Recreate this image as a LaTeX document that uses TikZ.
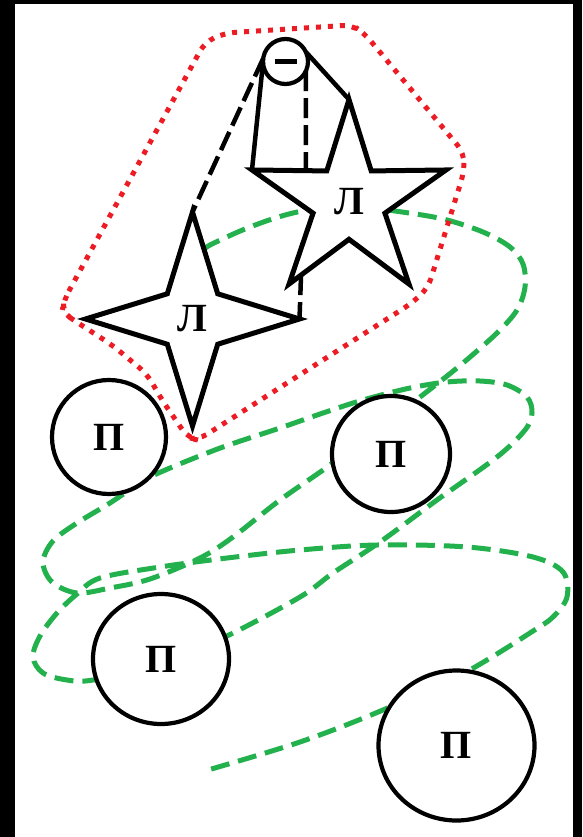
\documentclass[tikz,border=0pt]{standalone}
\usepackage{fontspec}
\newfontfamily\labfont{Liberation Serif}
\usetikzlibrary{shapes.geometric,calc}
\definecolor{gar}{RGB}{34,177,76}
\definecolor{outl}{RGB}{237,28,36}
\begin{document}
\begin{tikzpicture}[x=1pt,y=-1pt,
  lab/.style={font=\labfont\bfseries\fontsize{40}{40}\selectfont},
  ball/.style={ellipse,draw,line width=4.2pt,fill=white,inner sep=0pt,outer sep=0pt,lab},
  starl/.style={star,draw,line width=5pt,fill=white,inner sep=0pt,outer sep=0pt,lab},
  garland/.style={draw=gar,line width=5pt,dash pattern=on 19pt off 9pt},
  blk/.style={draw=black,line width=4.5pt},
  blkdash/.style={draw=black,line width=4.5pt,dash pattern=on 20pt off 7pt},
  outline/.style={draw=outl,line width=5pt,dash pattern=on 5pt off 7pt,rounded corners=10pt}
]
\useasboundingbox (0,0) rectangle (582,837);
\fill[black] (0,0) rectangle (582,837);
\fill[white] (15,4) rectangle (573,837);

% garland
\draw[garland,line cap=butt] plot[smooth,tension=0.55] coordinates {
 (203,250) (212,244) (250,227) (293,213) (345,205) (395,211) (443,219) (483,232)
 (510,247) (523,264) (525,287) (517,310) (497,333) (463,363) (433,387) (400,412)
 (360,440) (330,465) (280,500) (233,537) (200,558) (150,579) (110,588) (77,593)
 (52,582) (43,562) (53,541) (77,523) (110,503) (143,481) (170,468) (223,447)
 (280,428) (323,413) (363,400) (410,388) (447,382) (480,381) (507,385) (527,397)
 (532,413) (525,430) (497,457) (437,500) (380,542) (333,573) (300,597) (227,636)
 (160,665) (93,680) (67,680) (43,673) (33,657) (40,636) (57,613) (77,594)
 (100,578) (160,567) (227,558) (300,550) (377,545) (467,547) (533,557) (563,572)
 (567,597) (553,617) (533,631) (487,660) (450,680) (371,715) (297,743) (208,770)};

% stars and balls
\node[starl,star points=5,star point ratio=2.7,minimum size=204pt] (rs) at (349,201.5) {Л};
\node[starl,star points=4,star point ratio=3.0,minimum size=214pt] (ls) at (192.5,319) {Л};
\node[circle,draw,line width=4.2pt,fill=white,minimum size=45pt,inner sep=0pt,outer sep=0pt] (e) at (285.5,61.5) {};
\draw[line width=4.5pt] (e.center) +(-11,0) -- +(11,0);

\node[ball,minimum width=114pt,minimum height=114pt] (p1) at (109,437) {П};
\node[ball,minimum width=118pt,minimum height=116pt] (p2) at (391,454) {П};
\node[ball,minimum width=136pt,minimum height=130pt] (p3) at (161,659) {П};
\node[ball,minimum width=156pt,minimum height=150pt] (p4) at (456.5,745.5) {П};

% bonds
\coordinate (rtop) at ($(rs.outer point 2)!0.72!(rs.inner point 1)$);
\coordinate (rbot) at ($(rs.outer point 3)!0.2!(rs.inner point 3)$);
\draw[blk] (e.182) -- (rs.outer point 2);
\draw[blk] (e.25) -- (rs.outer point 1);
\draw[blkdash] (e.-25) -- (rtop);
\draw[blkdash] (e.172) -- (ls.outer point 1);
\draw[blkdash] (rbot) -- (ls.outer point 4);

% red outline
\draw[outline] (64,300) -- (205,42) -- (225,33) -- (352,25) -- (364,33) -- (464,153)
  -- (464,172) -- (428,288) -- (412,303) -- (198,440) -- (188,438) -- (162,400)
  -- (147,374) -- (112,345) -- (75,321) -- (62,312) -- cycle;
\end{tikzpicture}
\end{document}
